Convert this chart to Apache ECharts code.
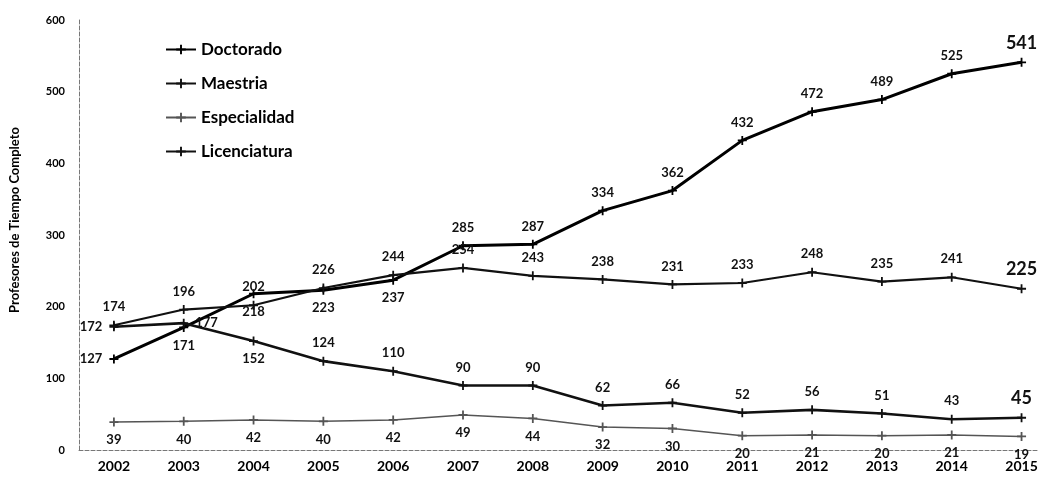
<!DOCTYPE html>
<html><head><meta charset="utf-8">
<script src="https://cdn.jsdelivr.net/npm/echarts@6/dist/echarts.min.js"></script>
<style>html,body{margin:0;padding:0;background:#fff}#c{width:1042px;height:481px}</style>
</head><body><div id="c"></div>
<script>
const years = [2002,2003,2004,2005,2006,2007,2008,2009,2010,2011,2012,2013,2014,2015];
const doctorado    = [127,171,218,223,237,285,287,334,362,432,472,489,525,541];
const maestria     = [174,196,202,226,244,254,243,238,231,233,248,235,241,225];
const especialidad = [39,40,42,40,42,49,44,32,30,20,21,20,21,19];
const licenciatura = [172,177,152,124,110,90,90,62,66,52,56,51,43,45];
const seriesNames  = ['Doctorado','Maestria','Especialidad','Licenciatura'];
const yAxisName    = 'Profesores de Tiempo Completo';

// label placement (style only)
const docPos = ['left','bottom','bottom','bottom','bottom','top','top','top','top','top','top','top','top','top'];
const maePos = ['top','top','top','top','top','top','top','top','top','top','top','top','top','top'];
const espPos = ['bottom','bottom','bottom','bottom','bottom','bottom','bottom','bottom','bottom','bottom','bottom','bottom','bottom','bottom'];
const licPos = ['left','right','bottom','top','top','top','top','top','top','top','top','top','top','top'];

const FONT = 'Lato, "Open Sans", sans-serif';
const plus = 'path://M4,0h2v4h4v2h-4v4h-2v-4h-4v-2h4z';

function mk(vals, pos, bigLast) {
  return vals.map((v, i) => {
    const big = bigLast && i === vals.length - 1;
    return {
      value: [years[i], v],
      label: {
        position: pos[i],
        fontSize: big ? 18 : 13,
        distance: big ? 6 : 7
      }
    };
  });
}

function series(name, vals, pos, width, color, bigLast) {
  return {
    name: name, type: 'line', data: mk(vals, pos, bigLast),
    symbol: plus, symbolSize: 9, showSymbol: true,
    lineStyle: { color: color, width: width },
    itemStyle: { color: color },
    label: { show: true, color: '#111', fontFamily: FONT, fontWeight: 'bold' },
    emphasis: { disabled: true },
    animation: false
  };
}

const chart = echarts.init(document.getElementById('c'));
chart.setOption({
  backgroundColor: '#fff',
  animation: false,
  grid: { left: 78, right: 1.5, top: 20, bottom: 31 },
  legend: {
    orient: 'vertical', left: 160, top: 36, itemGap: 17,
    itemWidth: 30, itemHeight: 12,
    textStyle: { fontFamily: FONT, fontSize: 17, color: '#000', fontWeight: 'bold' },
    data: seriesNames
  },
  xAxis: {
    type: 'value', min: 2001.5, max: 2015.25, interval: 0.25,
    axisLine: { show: true, lineStyle: { color: '#777', type: 'dashed', width: 1 } },
    axisTick: { show: false }, splitLine: { show: false },
    axisLabel: {
      margin: 9, fontFamily: FONT, fontSize: 14, fontWeight: 'bold', color: '#000',
      showMinLabel: true, showMaxLabel: true,
      formatter: v => (Math.abs(v - Math.round(v)) < 1e-6 ? String(Math.round(v)) : '')
    }
  },
  yAxis: {
    type: 'value', min: 0, max: 600, interval: 100,
    name: yAxisName, nameLocation: 'middle', nameGap: 58, nameRotate: 90,
    nameTextStyle: { fontFamily: FONT, fontSize: 13, fontWeight: 'bold', color: '#000', padding: [0, 0, 0, 30] },
    axisLine: { show: true, lineStyle: { color: '#777', type: 'dashed', width: 1 } },
    axisTick: { show: false }, splitLine: { show: false },
    axisLabel: { margin: 14, fontFamily: FONT, fontSize: 11, fontWeight: 'bold', color: '#000' }
  },
  series: [
    series(seriesNames[0], doctorado, docPos, 3, '#000', true),
    series(seriesNames[1], maestria, maePos, 2.2, '#111', true),
    series(seriesNames[2], especialidad, espPos, 1.5, '#555', false),
    series(seriesNames[3], licenciatura, licPos, 2.6, '#111', true)
  ]
});
</script></body></html>
